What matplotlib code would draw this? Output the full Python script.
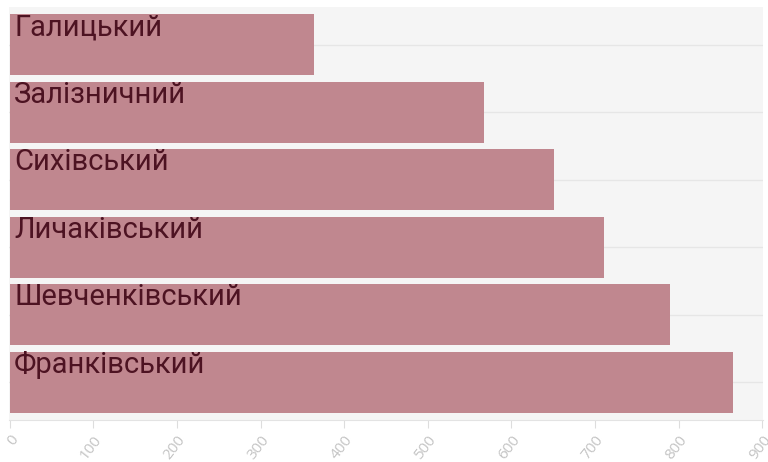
import matplotlib.pyplot as plt

# кількість по районах Львова
districts = ["Галицький", "Залізничний", "Сихівський", "Личаківський", "Шевченківський", "Франківський"]
values = [364, 567, 651, 711, 790, 865]
xticks = [0, 100, 200, 300, 400, 500, 600, 700, 800, 900]

bar_color = "#c0878f"
text_color = "#4d1322"

fig = plt.figure(figsize=(7.68, 4.62), dpi=100)
ax = fig.add_axes([9 / 768, 42 / 462, 754 / 768, 413 / 462])
ax.set_facecolor("#f5f5f5")

pos = list(range(len(districts)))
ax.barh(pos, values, height=0.9, color=bar_color, zorder=2)

for i, name in enumerate(districts):
    ax.annotate(name, xy=(0, i - 0.45), xytext=(3, -15), textcoords="offset points",
                va="baseline", ha="left", fontsize=21, family="Roboto",
                color=text_color, zorder=3)

ax.set_ylim(len(districts) - 0.44, -0.56)
ax.set_xlim(-1, 901)

# горизонтальна сітка по центрах категорій
ax.set_yticks(pos)
ax.set_yticklabels([])
ax.tick_params(axis="y", length=0)
ax.grid(axis="y", color="#e6e6e6", linewidth=1, zorder=0)
ax.set_axisbelow(True)

ax.set_xticks(xticks)
ax.set_xticklabels([str(t) for t in xticks], rotation=52, ha="right", va="top",
                   rotation_mode="anchor", fontsize=11, color="#c4c4c4", family="Open Sans")
ax.tick_params(axis="x", length=6, color="#dddddd", pad=3)

for side in ["top", "right", "left"]:
    ax.spines[side].set_visible(False)
ax.spines["bottom"].set_color("#e3e3e3")

fig.savefig("out.png", dpi=100, facecolor="white")
